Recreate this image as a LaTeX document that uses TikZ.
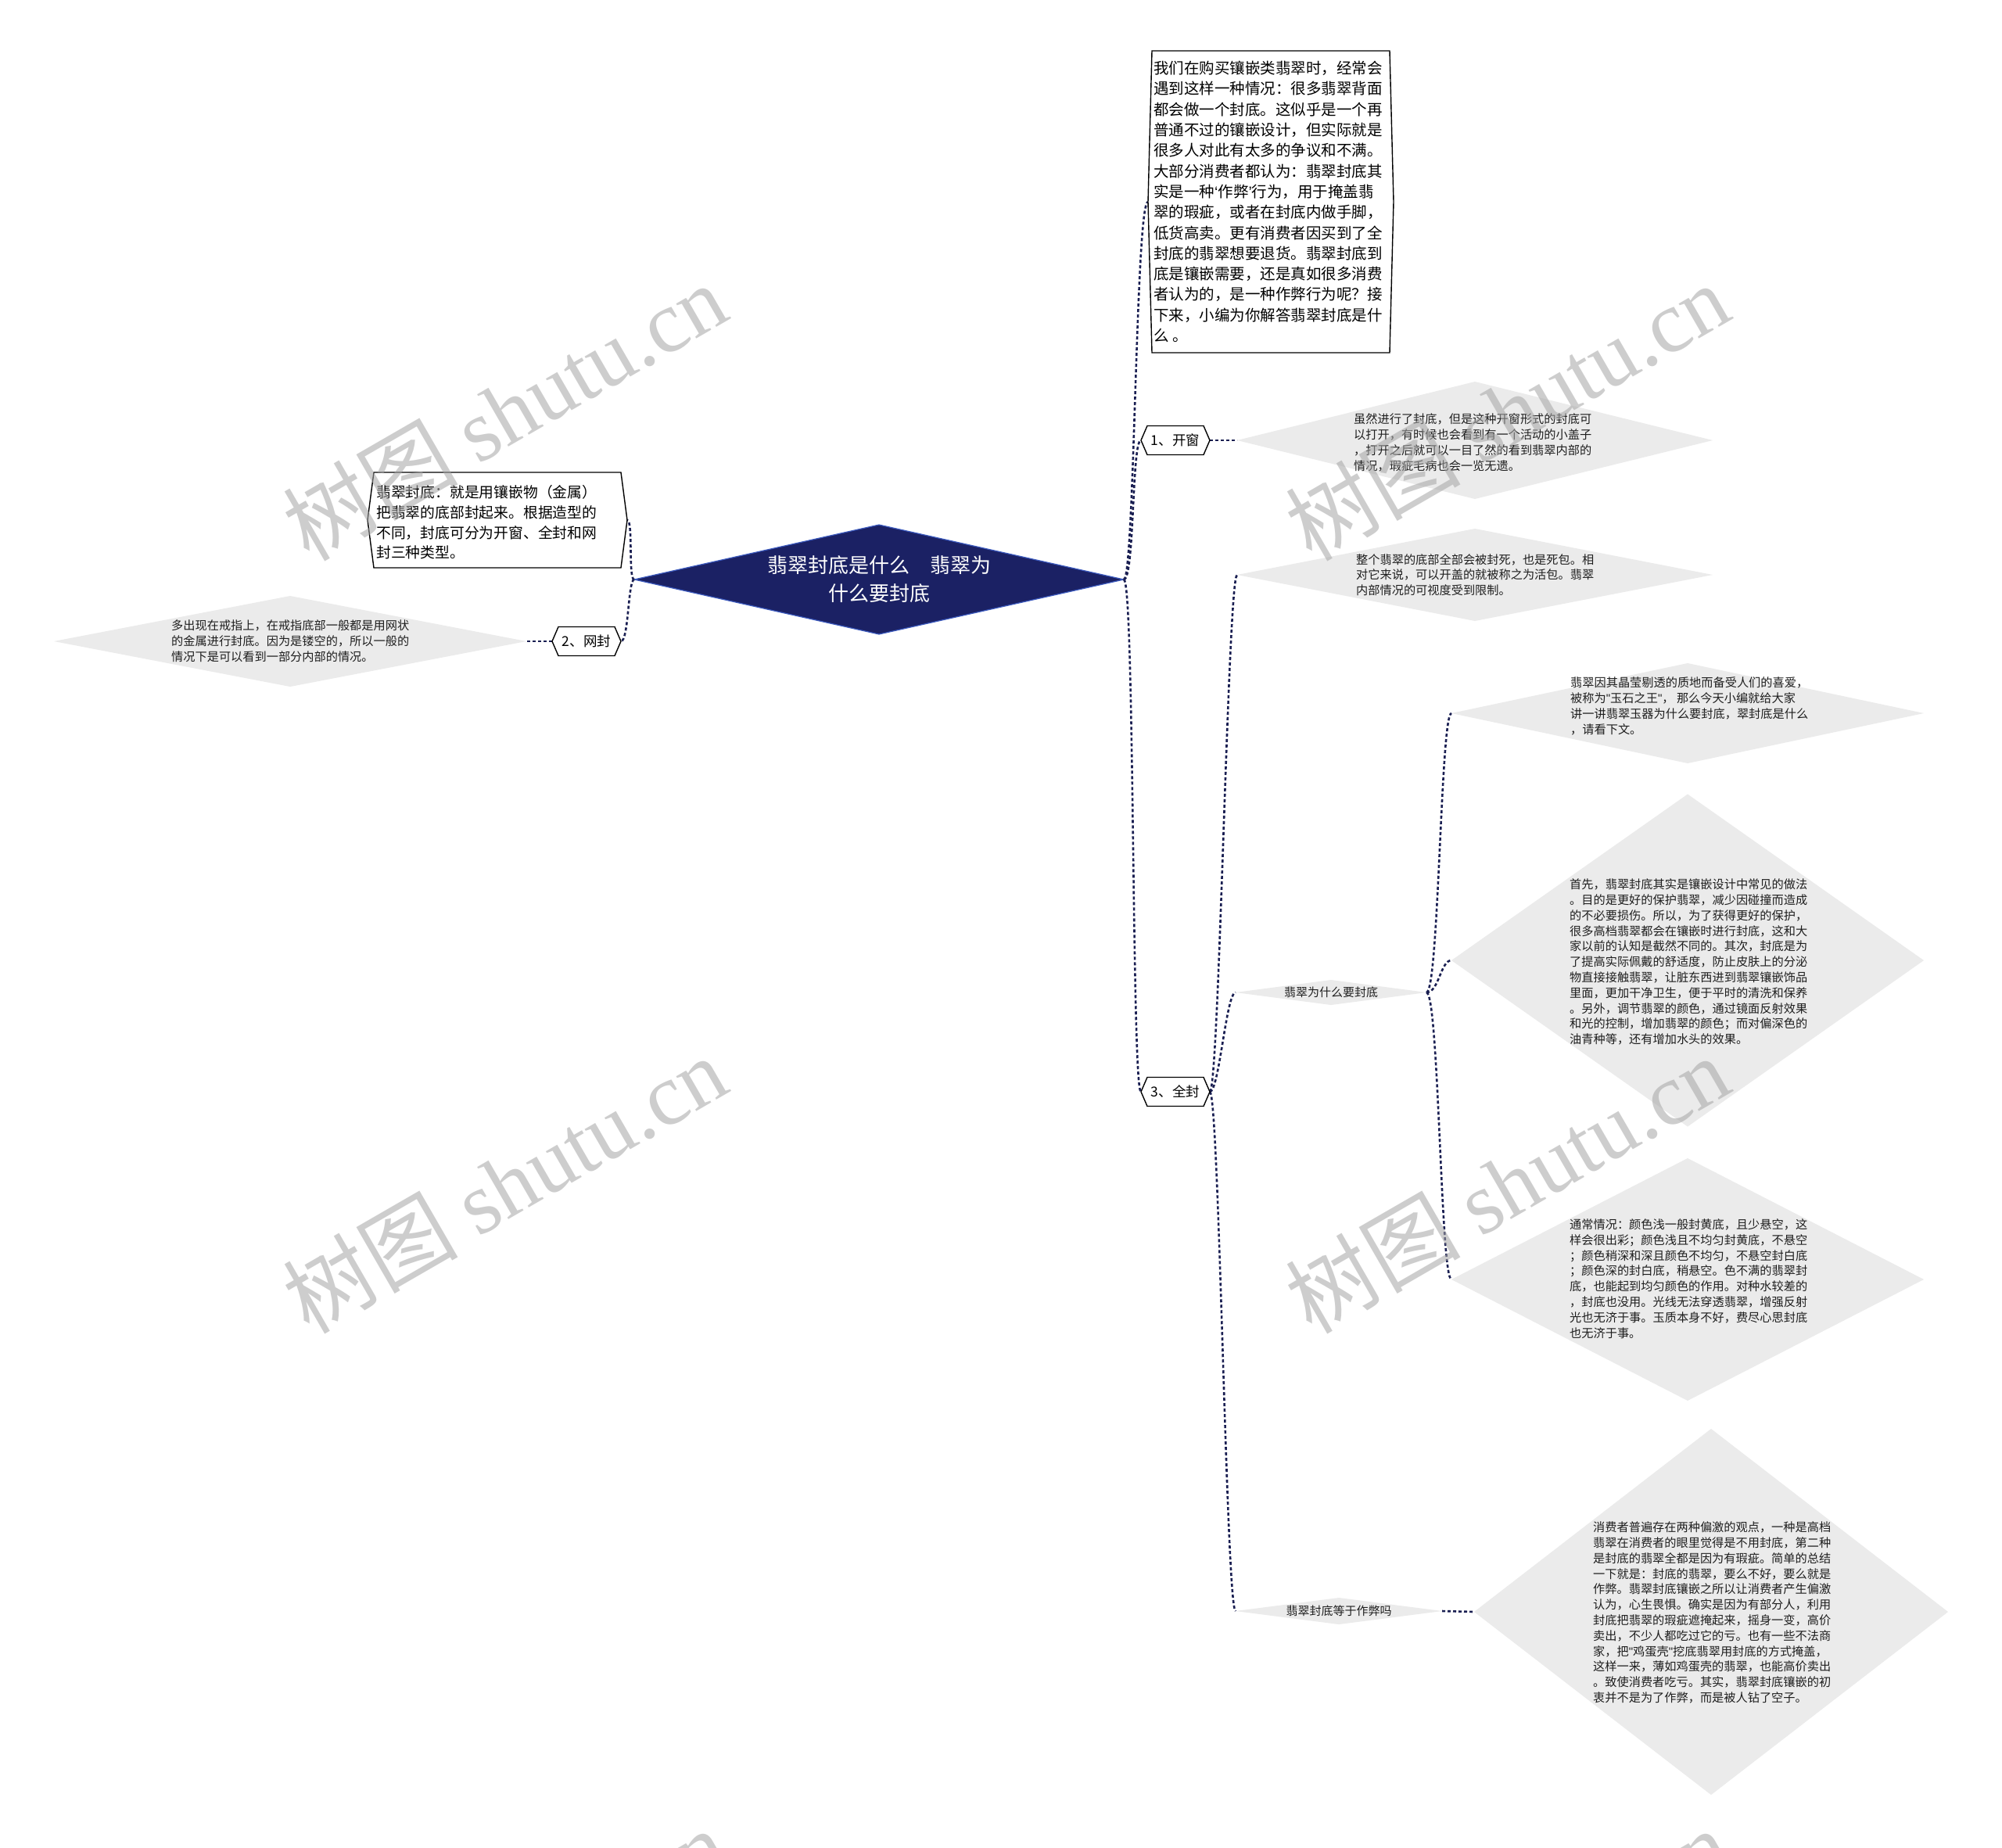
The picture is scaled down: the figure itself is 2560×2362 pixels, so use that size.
\documentclass[tikz,border=0pt]{standalone}
\usepackage{fontspec}
\setmainfont{Noto Sans CJK SC}
\newfontfamily\wmserif{Liberation Serif}
\newfontfamily\qfont{Liberation Sans}
\newcommand\myLq{{\qfont ‘}}
\newcommand\myRq{{\qfont ’}}
\newcommand\myDq{{\qfont "}}
\usetikzlibrary{shapes.geometric}
\definecolor{navy}{RGB}{27,33,100}
\definecolor{conncol}{RGB}{26,31,82}
\definecolor{dgrey}{RGB}{235,235,235}
\definecolor{rootedge}{RGB}{60,90,190}
\definecolor{wmcol}{RGB}{165,165,165}
\definecolor{txt}{RGB}{30,30,30}
\newcommand\hexdraw[2]{%
  \draw[hexline] (#1.north west) -- (#1.north east) -- ([xshift=#2]#1.east) -- (#1.south east) -- (#1.south west) -- ([xshift=-#2]#1.west) -- cycle;}
\tikzset{
  conn/.style={draw=conncol, line width=2.6pt, dash pattern=on 4pt off 3pt},
  hexline/.style={draw=black, fill=white, line width=1.4pt},
  gd/.style={diamond, fill=dgrey, draw=none, inner sep=0pt, outer sep=0pt},
  shapebox/.style={rectangle, draw=none, inner sep=0pt, outer sep=0pt},
  dtext/.style={inner sep=0pt, align=left, anchor=west, text=txt, font=\fontsize{15.2}{19.8}\selectfont},
  btext/.style={inner sep=0pt, align=left, anchor=west, text=black, font=\fontsize{19.5}{26.3}\selectfont},
  ltext/.style={inner sep=0pt, align=center, text=txt, font=\fontsize{15}{18}\selectfont},
  htext/.style={inner sep=0pt, align=center, text=black, font=\fontsize{17.5}{20}\selectfont},
  wm/.style={rotate=30, text=wmcol, text opacity=0.55, inner sep=0pt, font=\fontsize{112}{112}\selectfont},
}
\begin{document}
\begin{tikzpicture}[x=1pt,y=-1pt]
\useasboundingbox (0,0) rectangle (2560,2362);
\fill[white] (0,0) rectangle (2560,2362);

% ---------- shapes ----------
\node[diamond, fill=navy, draw=rootedge, line width=1.2pt, inner sep=0pt, outer sep=0pt,
      minimum width=626pt, minimum height=140pt] (root) at (1124,741) {};

\node[shapebox, minimum width=304pt, minimum height=386pt] (intro) at (1625,258) {};
\node[shapebox, minimum width=316pt, minimum height=122pt] (lbox) at (636,665) {};
\node[shapebox, minimum width=72pt, minimum height=37pt] (k1) at (1503,563) {};
\node[shapebox, minimum width=72pt, minimum height=37pt] (k2) at (750,820) {};
\node[shapebox, minimum width=72pt, minimum height=37pt] (k3) at (1503,1396) {};

\node[gd, minimum width=608pt, minimum height=150pt] (d1) at (1886,563) {};
\node[gd, minimum width=608pt, minimum height=118pt] (d2) at (1886,735) {};
\node[gd, minimum width=244pt, minimum height=32pt] (d3) at (1702,1269) {};
\node[gd, minimum width=264pt, minimum height=34pt] (d4) at (1712,2060) {};
\node[gd, minimum width=604pt, minimum height=128pt] (d5) at (2158,912) {};
\node[gd, minimum width=604pt, minimum height=425pt] (d6) at (2158,1228) {};
\node[gd, minimum width=604pt, minimum height=310pt] (d7) at (2158,1636) {};
\node[gd, minimum width=606pt, minimum height=468pt] (d8) at (2188,2061) {};
\node[gd, minimum width=604pt, minimum height=116pt] (d9) at (371,820) {};

% ---------- connectors ----------
\draw[conn] (root.east) .. controls +(14,0) and +(-16,0) .. ([xshift=-5pt]intro.west);
\draw[conn] (root.east) .. controls +(14,0) and +(-12,0) .. ([xshift=-8pt]k1.west);
\draw[conn] (root.east) .. controls +(14,0) and +(-12,0) .. ([xshift=-8pt]k3.west);
\draw[conn] ([xshift=8pt]k1.east) -- (d1.west);
\draw[conn] ([xshift=8pt]k3.east) .. controls +(12,0) and +(-12,0) .. (d2.west);
\draw[conn] ([xshift=8pt]k3.east) .. controls +(12,0) and +(-12,0) .. (d3.west);
\draw[conn] ([xshift=8pt]k3.east) .. controls +(12,0) and +(-12,0) .. (d4.west);
\draw[conn] (d3.east) .. controls +(16,0) and +(-14,0) .. (d5.west);
\draw[conn] (d3.east) .. controls +(16,0) and +(-14,0) .. (d6.west);
\draw[conn] (d3.east) .. controls +(16,0) and +(-14,0) .. (d7.west);
\draw[conn] (d4.east) -- (d8.west);
\draw[conn] (root.west) .. controls +(-8,0) and +(8,0) .. ([xshift=8pt]lbox.east);
\draw[conn] (root.west) .. controls +(-8,0) and +(10,0) .. ([xshift=8pt]k2.east);
\draw[conn] ([xshift=-8pt]k2.west) -- (d9.east);

% ---------- hexagon outlines ----------
\hexdraw{intro}{5pt}
\hexdraw{lbox}{8pt}
\hexdraw{k1}{8pt}
\hexdraw{k2}{8pt}
\hexdraw{k3}{8pt}

% ---------- texts ----------
\node[text=white, inner sep=0pt, align=center, font=\fontsize{26}{36}\selectfont] (roott) at (root.center)
  {翡翠封底是什么\hspace{1em}翡翠为\\什么要封底};

\node[btext] (introt) at (1475,258) {我们在购买镶嵌类翡翠时，经常会\\
遇到这样一种情况：很多翡翠背面\\
都会做一个封底。这似乎是一个再\\
普通不过的镶嵌设计，但实际就是\\
很多人对此有太多的争议和不满。\\
大部分消费者都认为：翡翠封底其\\
实是一种\myLq 作弊\myRq 行为，用于掩盖翡\\
翠的瑕疵，或者在封底内做手脚，\\
低货高卖。更有消费者因买到了全\\
封底的翡翠想要退货。翡翠封底到\\
底是镶嵌需要，还是真如很多消费\\
者认为的，是一种作弊行为呢？接\\
下来，小编为你解答翡翠封底是什\\
么 。};

\node[btext, font=\fontsize{18.8}{25.7}\selectfont] (lboxt) at (481,668) {翡翠封底：就是用镶嵌物（金属）\\
把翡翠的底部封起来。根据造型的\\
不同，封底可分为开窗、全封和网\\
封三种类型。};

\node[htext] (k1t) at (k1.center) {1、开窗};
\node[htext] (k2t) at (k2.center) {2、网封};
\node[htext] (k3t) at (k3.center) {3、全封};

\node[dtext] (d1t) at (1731,566) {虽然进行了封底，但是这种开窗形式的封底可\\
以打开，有时候也会看到有一个活动的小盖子\\
，打开之后就可以一目了然的看到翡翠内部的\\
情况，瑕疵毛病也会一览无遗。};

\node[dtext] (d2t) at (1734,735) {整个翡翠的底部全部会被封死，也是死包。相\\
对它来说，可以开盖的就被称之为活包。翡翠\\
内部情况的可视度受到限制。};

\node[ltext] (d3t) at (d3.center) {翡翠为什么要封底};
\node[ltext] (d4t) at (d4.center) {翡翠封底等于作弊吗};

\node[dtext] (d5t) at (2008,903) {翡翠因其晶莹剔透的质地而备受人们的喜爱，\\
被称为\myDq 玉石之王\myDq ， 那么今天小编就给大家\\
讲一讲翡翠玉器为什么要封底，翠封底是什么\\
，请看下文。};

\node[dtext] (d6t) at (2007,1230) {首先，翡翠封底其实是镶嵌设计中常见的做法\\
。目的是更好的保护翡翠，减少因碰撞而造成\\
的不必要损伤。所以，为了获得更好的保护，\\
很多高档翡翠都会在镶嵌时进行封底，这和大\\
家以前的认知是截然不同的。其次，封底是为\\
了提高实际佩戴的舒适度，防止皮肤上的分泌\\
物直接接触翡翠，让脏东西进到翡翠镶嵌饰品\\
里面，更加干净卫生，便于平时的清洗和保养\\
。另外，调节翡翠的颜色，通过镜面反射效果\\
和光的控制，增加翡翠的颜色；而对偏深色的\\
油青种等，还有增加水头的效果。};

\node[dtext] (d7t) at (2007,1635) {通常情况：颜色浅一般封黄底，且少悬空，这\\
样会很出彩；颜色浅且不均匀封黄底，不悬空\\
；颜色稍深和深且颜色不均匀，不悬空封白底\\
；颜色深的封白底，稍悬空。色不满的翡翠封\\
底，也能起到均匀颜色的作用。对种水较差的\\
，封底也没用。光线无法穿透翡翠，增强反射\\
光也无济于事。玉质本身不好，费尽心思封底\\
也无济于事。};

\node[dtext] (d8t) at (2037,2062) {消费者普遍存在两种偏激的观点，一种是高档\\
翡翠在消费者的眼里觉得是不用封底，第二种\\
是封底的翡翠全都是因为有瑕疵。简单的总结\\
一下就是：封底的翡翠，要么不好，要么就是\\
作弊。翡翠封底镶嵌之所以让消费者产生偏激\\
认为，心生畏惧。确实是因为有部分人，利用\\
封底把翡翠的瑕疵遮掩起来，摇身一变，高价\\
卖出，不少人都吃过它的亏。也有一些不法商\\
家，把\myDq 鸡蛋壳\myDq 挖底翡翠用封底的方式掩盖，\\
这样一来，薄如鸡蛋壳的翡翠，也能高价卖出\\
。致使消费者吃亏。其实，翡翠封底镶嵌的初\\
衷并不是为了作弊，而是被人钻了空子。};

\node[dtext] (d9t) at (219,820) {多出现在戒指上，在戒指底部一般都是用网状\\
的金属进行封底。因为是镂空的，所以一般的\\
情况下是可以看到一部分内部的情况。};

% ---------- watermarks ----------
\begin{scope}
\clip (0,0) rectangle (2560,2362);
\foreach \px/\py [count=\i] in {645/526, 1927/526, 645/1514, 1927/1514, 645/2502, 1927/2502}
  \node[wm] (wm\i) at (\px,\py) {树图 {\wmserif shutu.cn}};
\end{scope}
\end{tikzpicture}
\end{document}
